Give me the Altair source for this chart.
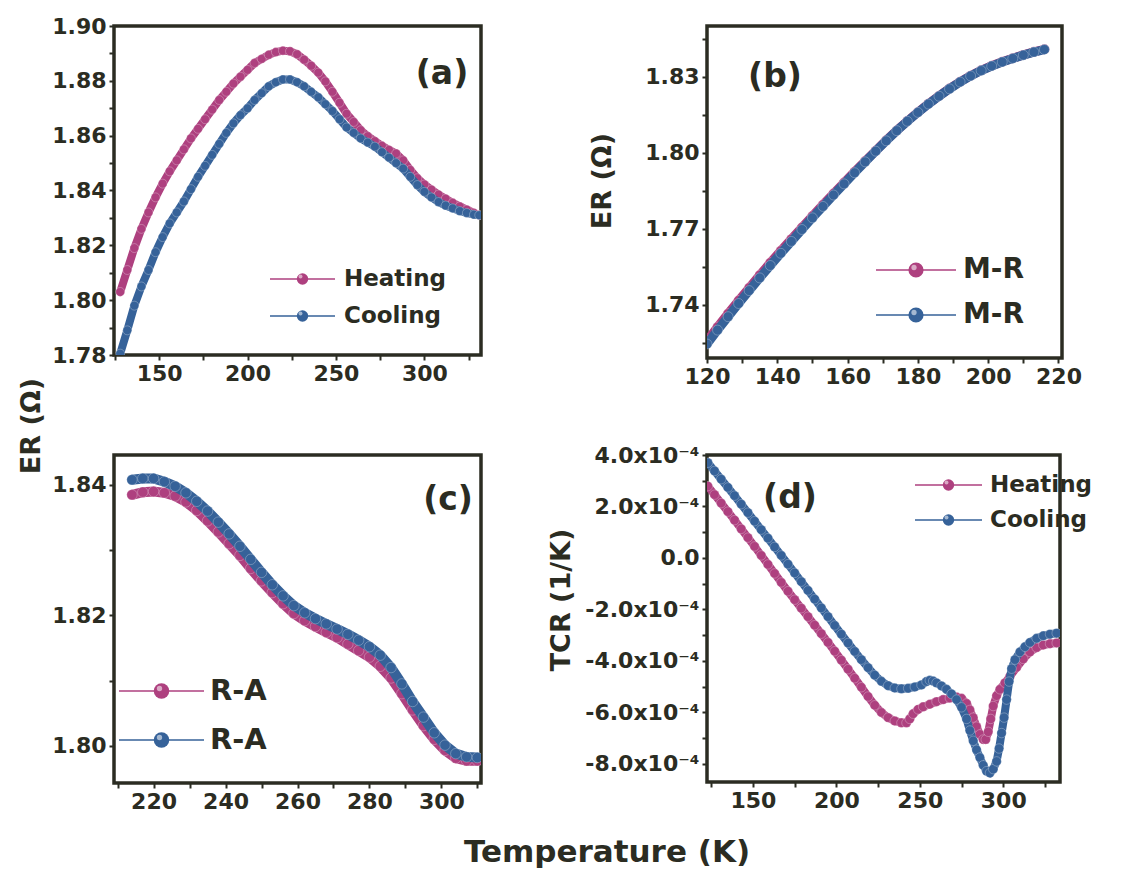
import altair as alt
import pandas as pd

INK = "#2b2c22"
HEAT = "#ae407f"
COOL = "#366299"
FONT = "DejaVu Sans"

# ---------------- (a) ER vs temperature, heating / cooling ----------------
a_temp = [128, 132, 136, 140, 144, 148, 152, 156, 160, 164, 168, 172, 176, 180,
          184, 188, 192, 196, 200, 204, 208, 212, 216, 220, 224, 228, 232, 236,
          240, 244, 248, 252, 256, 260, 264, 268, 272, 276, 280, 284, 288, 292,
          296, 300, 304, 308, 312, 316, 320, 324, 328, 331]
a_heating = [1.803, 1.811, 1.819, 1.826, 1.832, 1.8375, 1.8425, 1.847, 1.851, 1.855,
             1.859, 1.8625, 1.866, 1.8695, 1.873, 1.876, 1.879, 1.8815, 1.884, 1.8865,
             1.888, 1.8895, 1.8905, 1.891, 1.8908, 1.8897, 1.8877, 1.8855, 1.883, 1.8798,
             1.876, 1.872, 1.868, 1.865, 1.862, 1.8598, 1.858, 1.8563, 1.8548, 1.8535,
             1.851, 1.8475, 1.8445, 1.8422, 1.8403, 1.8385, 1.837, 1.8355, 1.8342, 1.833,
             1.8318, 1.831]
a_cooling = [1.7805, 1.789, 1.798, 1.805, 1.811, 1.8175, 1.823, 1.828, 1.832, 1.836,
             1.8405, 1.845, 1.849, 1.853, 1.857, 1.861, 1.8645, 1.8675, 1.870, 1.873,
             1.8755, 1.878, 1.8795, 1.8805, 1.8805, 1.8795, 1.878, 1.876, 1.874, 1.8715,
             1.869, 1.866, 1.863, 1.861, 1.859, 1.8575, 1.856, 1.854, 1.852, 1.850,
             1.848, 1.845, 1.842, 1.8395, 1.8375, 1.8358, 1.8345, 1.8335, 1.8325, 1.8318,
             1.8312, 1.831]

# ---------------- (b) M-R region ----------------
b_temp = [120, 123, 126, 129, 132, 135, 138, 141, 144, 147, 150, 153, 156, 159, 162,
          165, 168, 171, 174, 177, 180, 183, 186, 189, 192, 195, 198, 201, 204, 207,
          210, 213, 216]
b_run1 = [1.7257, 1.7312, 1.7365, 1.7417, 1.7467, 1.7517, 1.7566, 1.7613, 1.7659,
          1.7705, 1.7750, 1.7795, 1.7839, 1.7882, 1.7925, 1.7967, 1.8008, 1.8049,
          1.8088, 1.8125, 1.8160, 1.8193, 1.8224, 1.8253, 1.8280, 1.8304, 1.8325,
          1.8343, 1.8359, 1.8373, 1.8386, 1.8398, 1.8408]
b_run2 = [1.7245, 1.7300, 1.7353, 1.7405, 1.7456, 1.7506, 1.7555, 1.7603, 1.7650,
          1.7697, 1.7743, 1.7788, 1.7833, 1.7877, 1.7921, 1.7964, 1.8006, 1.8047,
          1.8087, 1.8124, 1.8159, 1.8192, 1.8223, 1.8252, 1.8279, 1.8303, 1.8324,
          1.8342, 1.8358, 1.8372, 1.8385, 1.8397, 1.8407]

# ---------------- (c) R-A region ----------------
c_temp = [214, 217, 220, 223, 226, 229, 232, 235, 238, 241, 244, 247, 250, 253, 256,
          259, 262, 265, 268, 271, 274, 277, 280, 283, 286, 289, 292, 295, 298, 301,
          304, 307, 310]
c_run1 = [1.8385, 1.8389, 1.8390, 1.8388, 1.8383, 1.8374, 1.8361, 1.8345, 1.8328,
          1.8310, 1.8292, 1.8272, 1.8253, 1.8235, 1.8218, 1.8203, 1.8192, 1.8183,
          1.8174, 1.8166, 1.8156, 1.8146, 1.8136, 1.8122, 1.8104, 1.8080, 1.8055,
          1.8031, 1.8010, 1.7993, 1.7981, 1.7977, 1.7977]
c_run2 = [1.8408, 1.8410, 1.8410, 1.8405, 1.8398, 1.8388, 1.8375, 1.8360, 1.8343,
          1.8325, 1.8306, 1.8286, 1.8266, 1.8247, 1.8230, 1.8215, 1.8204, 1.8195,
          1.8187, 1.8179, 1.8171, 1.8162, 1.8152, 1.8139, 1.8120, 1.8095, 1.8068,
          1.8044, 1.8020, 1.8001, 1.7988, 1.7983, 1.7982]

# ---------------- (d) TCR, in units of 1e-4 1/K ----------------
d_heat_temp = [123, 127, 131, 135, 139, 143, 147, 151, 155, 159, 163, 167, 171, 175,
               179, 183, 187, 191, 195, 199, 203, 207, 211, 215, 219, 223, 227, 231,
               235, 239, 242, 244, 246, 249, 252, 256, 260, 264, 268, 272, 275, 278,
               280, 282, 284, 286, 288, 289.5, 291, 292.5, 294, 296, 298, 301, 304,
               308, 312, 316, 320, 324, 328, 332]
d_heating = [2.79, 2.46, 2.13, 1.80, 1.47, 1.13, 0.79, 0.45, 0.10, -0.25,
             -0.60, -0.95, -1.29, -1.62, -1.95, -2.28, -2.61, -2.94, -3.28, -3.62,
             -3.97, -4.32, -4.67, -5.02, -5.38, -5.72, -6.00, -6.20, -6.33, -6.40,
             -6.40, -6.25, -6.05, -5.88, -5.78, -5.68, -5.58, -5.50, -5.44, -5.40,
             -5.45, -5.65, -5.90, -6.20, -6.55, -6.85, -7.05, -7.05, -6.75, -6.25,
             -5.75, -5.35, -5.10, -4.85, -4.60, -4.25, -3.92, -3.65, -3.48, -3.38,
             -3.33, -3.30]
d_cool_temp = [123, 127, 131, 135, 139, 143, 147, 151, 155, 159, 163, 167, 171, 175,
               179, 183, 187, 191, 195, 199, 203, 207, 211, 215, 219, 223, 227, 231,
               235, 239, 243, 247, 251, 254, 256, 258, 260, 263, 266, 269, 272, 275,
               278, 280, 282, 284, 286, 288, 290, 292, 294, 296, 297.5, 299, 300.5,
               302, 303.5, 305, 307, 310, 313, 316, 320, 324, 328, 332]
d_cooling = [3.70, 3.38, 3.06, 2.74, 2.42, 2.09, 1.76, 1.43, 1.10, 0.77,
             0.43, 0.10, -0.24, -0.58, -0.92, -1.26, -1.60, -1.94, -2.28, -2.62,
             -2.96, -3.30, -3.63, -3.95, -4.26, -4.55, -4.79, -4.96, -5.05, -5.08,
             -5.06, -5.01, -4.93, -4.80, -4.75, -4.78, -4.85, -4.97, -5.10, -5.28,
             -5.50, -5.80, -6.25, -6.70, -7.10, -7.45, -7.75, -8.05, -8.28, -8.35,
             -8.20, -7.90, -7.40, -6.80, -6.20, -5.50, -4.80, -4.30, -3.95, -3.65,
             -3.45, -3.28, -3.12, -3.02, -2.96, -2.92]

# tick positions (major + minor)
a_xticks = [125, 150, 175, 200, 225, 250, 275, 300, 325]
a_yticks = [1.78, 1.79, 1.80, 1.81, 1.82, 1.83, 1.84, 1.85, 1.86, 1.87, 1.88, 1.89, 1.90]
b_xticks = [120, 130, 140, 150, 160, 170, 180, 190, 200, 210, 220]
b_yticks = [1.725, 1.74, 1.755, 1.77, 1.785, 1.80, 1.815, 1.83, 1.845]
c_xticks = [210, 220, 230, 240, 250, 260, 270, 280, 290, 300, 310]
c_yticks = [1.80, 1.81, 1.82, 1.83, 1.84]
d_xticks = [125, 150, 175, 200, 225, 250, 275, 300, 325]
d_yticks = [-8, -7, -6, -5, -4, -3, -2, -1, 0, 1, 2, 3, 4]


def axis(values, label_expr):
    return alt.Axis(values=values, labelExpr=label_expr, title=None, grid=False,
                    domain=False, ticks=True, tickSize=5, tickWidth=2, tickColor=INK,
                    labelFont=FONT, labelFontSize=22, labelFontWeight="bold",
                    labelColor=INK, labelPadding=3, labelFlush=False,
                    labelOverlap=False, labelBound=False)


def series(temps, values, color, xenc, yenc, size=80, width=8):
    df = pd.DataFrame({"T": temps, "v": values})
    base = alt.Chart(df).encode(x=xenc, y=yenc)
    line = base.mark_line(color=color, strokeWidth=width, clip=True)
    pts = base.mark_circle(color=color, size=size, opacity=1, stroke="#ffffff",
                           strokeOpacity=0.35, strokeWidth=0.8, clip=True)
    return [line, pts]


def legend_entry(label, color, x0, x1, y, tx, size, fsize):
    src = alt.Chart(pd.DataFrame({"label": [label]}))
    rule = src.mark_rule(color=color, strokeWidth=1.5).encode(
        x=alt.value(x0), x2=alt.value(x1), y=alt.value(y))
    dot = src.mark_circle(color=color, size=size, opacity=1).encode(
        x=alt.value((x0 + x1) / 2), y=alt.value(y))
    shine = src.mark_circle(color="#ffffff", size=size * 0.12, opacity=0.55).encode(
        x=alt.value((x0 + x1) / 2 - 2), y=alt.value(y - 2.5))
    text = src.mark_text(align="left", baseline="middle", font=FONT, fontSize=fsize,
                         fontWeight="bold", color=INK).encode(
        x=alt.value(tx), y=alt.value(y), text="label:N")
    return [rule, dot, shine, text]


def note(text, x, y, size, angle=0):
    return alt.Chart(pd.DataFrame({"t": [text]})).mark_text(
        font=FONT, fontSize=size, fontWeight="bold", color=INK, angle=angle,
        align="center", baseline="middle").encode(
        x=alt.value(x), y=alt.value(y), text="t:N")


def xy(xdom, ydom, xticks, yticks, xexpr, yexpr):
    xenc = alt.X("T:Q", scale=alt.Scale(domain=xdom, nice=False, zero=False),
                 axis=axis(xticks, xexpr))
    yenc = alt.Y("v:Q", scale=alt.Scale(domain=ydom, nice=False, zero=False),
                 axis=axis(yticks, yexpr))
    return xenc, yenc


# panel (a)
xa, ya = xy([124.5, 332], [1.78, 1.90], a_xticks, a_yticks,
            "datum.value % 50 == 0 ? datum.label : ''",
            "round(datum.value * 100) % 2 == 0 ? format(datum.value, '.2f') : ''")
panel_a = alt.layer(
    *series(a_temp, a_heating, HEAT, xa, ya),
    *series(a_temp, a_cooling, COOL, xa, ya),
    *legend_entry("Heating", HEAT, 156, 221, 253, 230, 130, 23),
    *legend_entry("Cooling", COOL, 156, 221, 290, 230, 130, 23),
    note("(a)", 328, 48, 33),
    note("ER (Ω)", -82, 400, 27, 270),
).properties(width=367, height=329)

# panel (b)
xb, yb = xy([120, 221], [1.719, 1.850], b_xticks, b_yticks,
            "datum.value % 20 == 0 ? datum.label : ''",
            "round(datum.value * 1000) % 30 == 0 ? format(datum.value, '.2f') : ''")
panel_b = alt.layer(
    *series(b_temp, b_run1, HEAT, xb, yb, size=100, width=9),
    *series(b_temp, b_run2, COOL, xb, yb, size=100, width=9),
    *legend_entry("M-R", HEAT, 169, 249, 244, 256, 230, 28),
    *legend_entry("M-R", COOL, 169, 249, 289, 256, 230, 28),
    note("(b)", 68, 51, 33),
    note("ER (Ω)", -104, 155, 27, 270),
).properties(width=355, height=332)

# panel (c)
xc, yc = xy([209, 311], [1.7943, 1.8446], c_xticks, c_yticks,
            "datum.value % 20 == 0 ? datum.label : ''",
            "round(datum.value * 100) % 2 == 0 ? format(datum.value, '.2f') : ''")
panel_c = alt.layer(
    *series(c_temp, c_run1, HEAT, xc, yc, size=110, width=10),
    *series(c_temp, c_run2, COOL, xc, yc, size=110, width=10),
    *legend_entry("R-A", HEAT, 5, 90, 236, 96, 240, 29),
    *legend_entry("R-A", COOL, 5, 90, 285, 96, 240, 29),
    note("(c)", 334, 45, 33),
    note("Temperature (K)", 493, 398, 31),
).properties(width=367, height=328)

# panel (d)
xd, yd = xy([122.5, 334], [-8.7, 4.0], d_xticks, d_yticks,
            "datum.value % 50 == 0 ? datum.label : ''",
            "round(datum.value) % 2 == 0 ? (datum.value == 0 ? '0.0' : "
            "replace(format(datum.value, '.1f'), '\u2212', '-') + 'x10⁻⁴') : ''")
panel_d = alt.layer(
    *series(d_heat_temp, d_heating, HEAT, xd, yd, size=90, width=8),
    *series(d_cool_temp, d_cooling, COOL, xd, yd, size=90, width=8),
    *legend_entry("Heating", HEAT, 208, 275, 30, 283, 130, 23),
    *legend_entry("Cooling", COOL, 208, 275, 65, 283, 130, 23),
    note("(d)", 83, 43, 33),
    note("TCR (1/K)", -145, 145, 27, 270),
).properties(width=353, height=327)

chart = alt.concat(
    panel_a, panel_b, panel_c, panel_d,
    columns=2, spacing={"row": 97, "column": 226}, bounds="flush",
).properties(
    padding={"left": 16, "top": 13, "right": 10, "bottom": 10},
    background="#ffffff",
).configure_view(stroke=INK, strokeWidth=3.5)

chart.save("out.html", embed_options={"renderer": "svg", "actions": False})
